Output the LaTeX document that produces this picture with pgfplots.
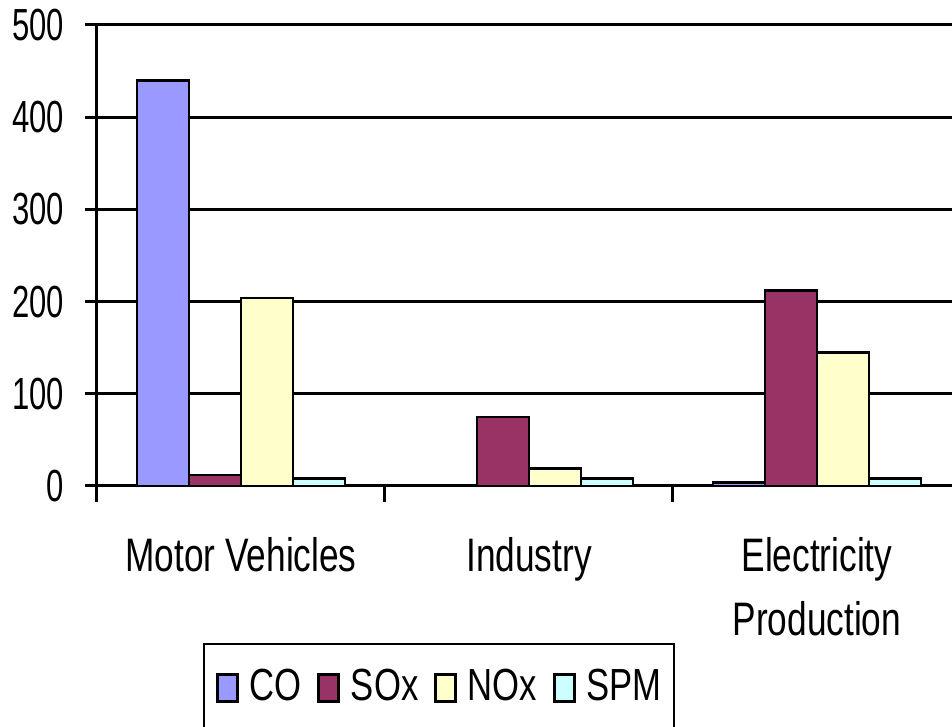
\documentclass[border=0pt]{standalone}
\usepackage{fontspec}
\setmainfont{Liberation Sans}[FakeStretch=0.75]
\newfontfamily\legfont{Liberation Sans}[FakeStretch=0.77]
\newfontfamily\tickfont{Liberation Sans}[FakeStretch=0.69]
\usepackage{pgfplots}
\pgfplotsset{compat=1.18}
\definecolor{cCO}{HTML}{9999FF}
\definecolor{cSO}{HTML}{993366}
\definecolor{cNO}{HTML}{FFFFCC}
\definecolor{cSP}{HTML}{CCFFFF}
\begin{document}
\fontsize{47}{66}\selectfont
\begin{tikzpicture}
\useasboundingbox (0,0) rectangle (952pt,727pt);
\begin{axis}[
  at={(97pt,241pt)}, anchor=south west,
  scale only axis, width=855pt, height=461pt,
  /pgf/number format/assume math mode=true,
  xmin=-0.5, xmax=2.469, ymin=0, ymax=500,
  axis lines=left,
  axis line style={-, line width=3pt, black},
  ybar=0pt, bar width=52pt,
  ytick={0,100,200,300,400,500},
  xtick={0,1,2},
  xticklabels={Motor Vehicles, Industry, {Electricity\\Production}},
  xticklabel style={align=center, yshift=-24pt, font=\fontsize{47}{64}\selectfont},
  yticklabel style={xshift=-5pt, font=\fontsize{45}{50}\selectfont\tickfont},
  tick align=outside,
  major tick length=12pt,
  ytick style={line width=3pt, black},
  xtick style={draw=none},
  extra x ticks={-0.5,0.5,1.5},
  extra x tick labels={},
  extra x tick style={xtick style={draw=black, line width=3pt}, major tick length=16pt, grid=none},
  ymajorgrids, grid style={black, line width=3pt},
  every axis plot/.append style={draw=black, line width=2.5pt},
  legend style={at={(0.124,-0.3406)}, anchor=north west, draw=black, line width=2pt,
    font=\fontsize{45}{52}\selectfont\legfont, inner xsep=12pt, inner ysep=23pt,
    nodes={inner xsep=0pt}},
  legend columns=-1,
  legend image code/.code={\draw[#1, line width=2.5pt] (0pt,-13pt) rectangle (20pt,14pt);},
  /tikz/every odd column/.append style={column sep=11pt},
  /tikz/every even column/.append style={column sep=16pt},
]
\addplot[fill=cCO] coordinates {(0,440) (1,0) (2,4)};
\addplot[fill=cSO] coordinates {(0,12) (1,75) (2,212)};
\addplot[fill=cNO] coordinates {(0,204) (1,19) (2,145)};
\addplot[fill=cSP] coordinates {(0,8) (1,8) (2,8)};
\legend{CO, SOx, NOx, SPM}
\end{axis}
\end{tikzpicture}
\end{document}
